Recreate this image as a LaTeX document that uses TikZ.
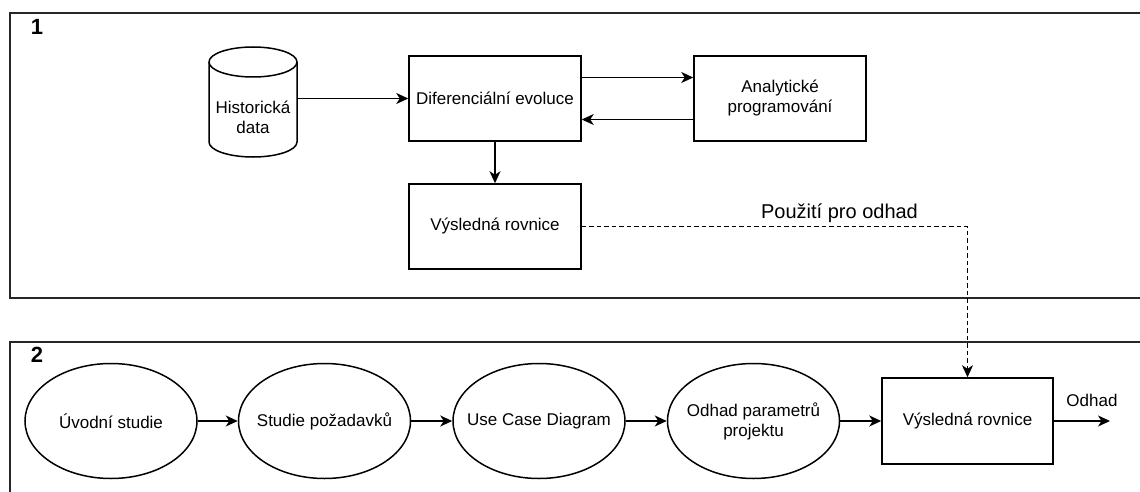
\documentclass[tikz,border=0pt]{standalone}
\usepackage{fontspec}
\setmainfont{Liberation Sans}
\usetikzlibrary{arrows.meta,shapes.geometric}
\begin{document}
\begin{tikzpicture}[x=1pt,y=-1pt,
  every node/.style={font=\fontsize{17}{20}\selectfont, align=center},
  stroke/.style={line width=1.5pt},
  frame/.style={line width=1.6pt, draw=black!85},
  stepbox/.style={stroke, draw, rectangle, minimum width=172pt, minimum height=85pt, inner sep=0pt},
  phase/.style={stroke, draw, ellipse, minimum width=172pt, minimum height=115pt, inner sep=0pt},
  flow/.style={stroke, -{Stealth[length=12pt,width=11pt,inset=3.5pt]}},
  hint/.style={dash pattern=on 4.5pt off 3pt},
  tag/.style={font=\bfseries\fontsize{22}{26}\selectfont}
]
\useasboundingbox (0,0) rectangle (1140,492);

% swim lanes
\draw[frame] (1145,13) -- (10,13) -- (10,298) -- (1145,298);
\draw[frame] (1145,342) -- (10,342) -- (10,500);
\node[tag] (lane1) at (37,26.5) {1};
\node[tag] (lane2) at (37,354.5) {2};

% data store (cylinder)
\node[minimum width=88pt, minimum height=110pt, inner sep=0pt] (hist) at (253,102) {};
\draw[stroke] (209,62) -- (209,142)
  arc[start angle=180, end angle=360, x radius=44pt, y radius=15pt]
  -- (297,62)
  arc[start angle=0, end angle=180, x radius=44pt, y radius=15pt];
\draw[stroke] (209,62) arc[start angle=180, end angle=360, x radius=44pt, y radius=15pt];
\node (histtxt) at (253,117) {Historická\\data};

% upper lane
\node[stepbox] (dif) at (495,98.5) {Diferenciální evoluce};
\node[stepbox] (ap) at (780,98.5) {Analytické\\programování};
\node[stepbox] (res1) at (495,226.5) {Výsledná rovnice};

\draw[flow] (hist.east |- dif.west) -- (dif.west);
\draw[flow] ([yshift=21pt]dif.east) -- ([yshift=21pt]ap.west);
\draw[flow] ([yshift=-21pt]ap.west) -- ([yshift=-21pt]dif.east);
\draw[flow] (dif.south) -- (res1.north);

% lower lane
\node[phase, label={center:Úvodní studie}] (e1) at (111,421) {};
\node[phase, label={center:Studie požadavků}] (e2) at (324.5,421) {};
\node[phase, label={center:Use Case Diagram}] (e3) at (539,421) {};
\node[phase, label={[align=center]center:Odhad parametrů\\projektu}] (e4) at (753.5,421) {};
\node[stepbox, minimum width=171pt, minimum height=86pt] (res2) at (967.5,421) {Výsledná rovnice};
\coordinate (out) at (1110,421);
\node (outlbl) at (1092,400) {Odhad};

\draw[flow] (e1) -- (e2);
\draw[flow] (e2) -- (e3);
\draw[flow] (e3) -- (e4);
\draw[flow] (e4) -- (res2);
\draw[flow] (res2) -- (out);

% link between the lanes
\draw[flow, hint] (res1.east) -| (res2.north);
\node[font=\fontsize{20}{24}\selectfont] (uselbl) at (839.5,213) {Použití pro odhad};
\end{tikzpicture}
\end{document}
